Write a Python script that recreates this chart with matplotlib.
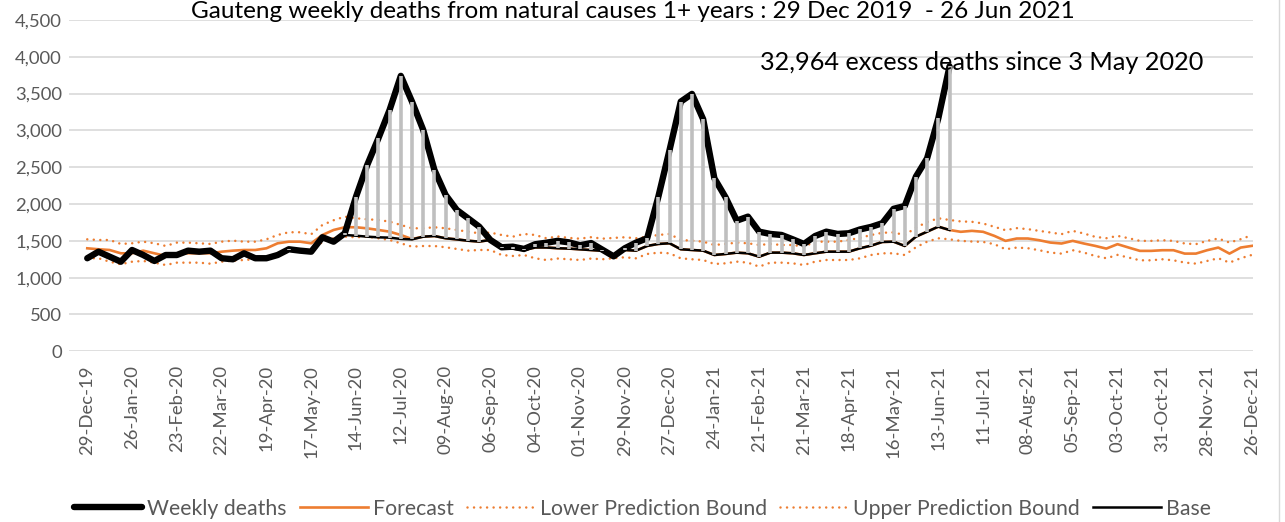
import matplotlib
matplotlib.use("Agg")
import matplotlib.pyplot as plt
import numpy as np
from matplotlib.lines import Line2D
from matplotlib.ticker import FuncFormatter

plt.rcParams['font.family'] = ['Lato', 'DejaVu Sans']

# weekly deaths, week 0 = 29-Dec-19 ... week 77 = 20-Jun-21
weekly_deaths = [
    1264, 1353, 1285, 1217, 1376, 1308, 1227, 1308, 1308, 1367,
    1353, 1367, 1264, 1250, 1331, 1264, 1264, 1308, 1386, 1367,
    1353, 1549, 1489, 1603, 2100, 2531, 2894, 3279, 3741, 3391,
    3007, 2463, 2124, 1920, 1807, 1693, 1512, 1413, 1421, 1390,
    1454, 1475, 1500, 1480, 1440, 1470, 1380, 1290, 1399, 1476,
    1535, 2101, 2735, 3391, 3496, 3152, 2350, 2092, 1775, 1829,
    1625, 1594, 1580, 1521, 1458, 1566, 1625, 1594, 1603, 1655,
    1690, 1740, 1935, 1974, 2373, 2622, 3166, 3870,
]

# base line, starts 3 May 2020 (week 18)
base_start = 18
base = [
    1375, 1360, 1345, 1549, 1489, 1580, 1570, 1557, 1548, 1544,
    1526, 1520, 1557, 1566, 1535, 1520, 1502, 1490, 1512, 1400,
    1395, 1375, 1410, 1410, 1400, 1395, 1385, 1375, 1365, 1290,
    1376, 1367, 1431, 1458, 1467, 1386, 1376, 1367, 1308, 1322,
    1340, 1331, 1285, 1340, 1340, 1331, 1308, 1331, 1353, 1353,
    1353, 1399, 1435, 1485, 1489, 1431, 1557, 1625, 1693, 1648,
]

forecast = [
    1399, 1386, 1376, 1331, 1331, 1367, 1331, 1295, 1331, 1331,
    1331, 1331, 1353, 1367, 1376, 1376, 1399, 1467, 1489, 1489,
    1467, 1580, 1648, 1685, 1685, 1670, 1648, 1625, 1580, 1525,
    1557, 1566, 1535, 1520, 1502, 1490, 1512, 1400, 1395, 1375,
    1410, 1410, 1400, 1395, 1385, 1375, 1365, 1290, 1376, 1367,
    1431, 1458, 1467, 1386, 1376, 1367, 1308, 1322, 1340, 1331,
    1285, 1340, 1340, 1331, 1308, 1331, 1353, 1353, 1353, 1399,
    1435, 1485, 1489, 1431, 1557, 1625, 1693, 1648, 1623, 1636,
    1623, 1568, 1500, 1532, 1532, 1509, 1477, 1464, 1500, 1464,
    1432, 1395, 1455, 1409, 1364, 1364, 1373, 1373, 1327, 1327,
    1373, 1409, 1327, 1409, 1432,
]

upper_bound = [
    1521, 1512, 1512, 1458, 1467, 1489, 1467, 1431, 1476, 1476,
    1467, 1458, 1489, 1503, 1489, 1489, 1521, 1580, 1617, 1617,
    1590, 1716, 1780, 1829, 1807, 1793, 1784, 1761, 1716, 1671,
    1671, 1685, 1671, 1648, 1625, 1603, 1612, 1580, 1557, 1594,
    1580, 1535, 1560, 1540, 1530, 1550, 1530, 1540, 1549, 1535,
    1557, 1580, 1594, 1512, 1503, 1489, 1444, 1458, 1476, 1467,
    1444, 1458, 1444, 1444, 1421, 1489, 1489, 1489, 1512, 1540,
    1580, 1610, 1615, 1578, 1680, 1755, 1807, 1784, 1764, 1759,
    1736, 1691, 1645, 1673, 1659, 1636, 1614, 1591, 1636, 1600,
    1555, 1536, 1568, 1536, 1500, 1500, 1509, 1500, 1464, 1455,
    1500, 1532, 1477, 1523, 1577,
]

lower_bound = [
    1264, 1264, 1217, 1182, 1217, 1227, 1204, 1172, 1204, 1204,
    1204, 1190, 1217, 1231, 1240, 1250, 1276, 1331, 1376, 1376,
    1340, 1489, 1535, 1557, 1549, 1557, 1535, 1512, 1467, 1421,
    1430, 1430, 1413, 1390, 1367, 1376, 1376, 1308, 1295, 1308,
    1263, 1240, 1260, 1250, 1240, 1260, 1250, 1265, 1277, 1263,
    1322, 1340, 1331, 1263, 1250, 1240, 1186, 1195, 1218, 1204,
    1150, 1204, 1204, 1195, 1172, 1218, 1240, 1240, 1240, 1263,
    1308, 1331, 1331, 1308, 1413, 1489, 1535, 1521, 1500, 1491,
    1486, 1455, 1386, 1409, 1400, 1373, 1341, 1327, 1373, 1341,
    1295, 1264, 1309, 1273, 1236, 1236, 1250, 1236, 1205, 1191,
    1227, 1264, 1205, 1264, 1309,
]

tick_labels = [
    "29-Dec-19", "26-Jan-20", "23-Feb-20", "22-Mar-20", "19-Apr-20",
    "17-May-20", "14-Jun-20", "12-Jul-20", "09-Aug-20", "06-Sep-20",
    "04-Oct-20", "01-Nov-20", "29-Nov-20", "27-Dec-20", "24-Jan-21",
    "21-Feb-21", "21-Mar-21", "18-Apr-21", "16-May-21", "13-Jun-21",
    "11-Jul-21", "08-Aug-21", "05-Sep-21", "03-Oct-21", "31-Oct-21",
    "28-Nov-21", "26-Dec-21",
]

ORANGE = "#ED7D31"
GREY_TXT = "#595959"

weeks = np.arange(len(forecast))
w_weeks = np.arange(len(weekly_deaths))
b_weeks = np.arange(base_start, base_start + len(base))

fig = plt.figure(figsize=(12.85, 5.22), dpi=100)
W, H = 1285, 522
ax = fig.add_axes([69 / W, 1 - 351.3 / H, (1253 - 69) / W, (351.3 - 20) / H])

dot = (0, (0.01, 2.6))
l_low, = ax.plot(weeks, lower_bound, color=ORANGE, lw=1.8, ls=dot,
                 dash_capstyle='round', zorder=2)
l_up, = ax.plot(weeks, upper_bound, color=ORANGE, lw=1.8, ls=dot,
                dash_capstyle='round', zorder=2)
l_fc, = ax.plot(weeks, forecast, color=ORANGE, lw=1.9, zorder=3)
l_wd, = ax.plot(w_weeks, weekly_deaths, color="black", lw=4.6,
                solid_joinstyle='round', solid_capstyle='round', zorder=4)
l_base, = ax.plot(b_weeks, base, color="black", lw=1.8, zorder=5)

# excess bars from base up to weekly deaths
wd_from_base = np.array(weekly_deaths[base_start:])
top = np.maximum(wd_from_base, base)
ax.vlines(b_weeks, base, top, color="#BFBFBF", lw=2.6, zorder=6)

ax.set_ylim(0, 4500)
ax.set_yticks(np.arange(0, 4501, 500))
ax.yaxis.set_major_formatter(FuncFormatter(lambda v, p: f"{int(v):,}"))
ax.set_xlim(-1.63, 104.1)
ax.set_xticks(np.arange(0, 105, 4))
ax.set_xticklabels(tick_labels, rotation=90)
ax.grid(axis='y', color="#D9D9D9", lw=1.2, zorder=0)
ax.set_axisbelow(True)
for s in ax.spines.values():
    s.set_visible(False)
ax.tick_params(axis='both', length=0, labelsize=13.3, colors=GREY_TXT)
ax.tick_params(axis='y', pad=5)
ax.tick_params(axis='x', pad=10)

fig.text(633 / W, 1 - 18 / H,
         "Gauteng weekly deaths from natural causes 1+ years : 29 Dec 2019  - 26 Jun 2021",
         ha='center', va='baseline', fontsize=17.5, color="black")
fig.text(760 / W, 1 - 70 / H, "32,964 excess deaths since 3 May 2020",
         ha='left', va='baseline', fontsize=18.2, color="black", zorder=10)

leg = fig.legend([l_wd, l_fc, l_low, l_up, l_base],
                 ["Weekly deaths", "Forecast", "Lower Prediction Bound",
                  "Upper Prediction Bound", "Base"],
                 loc='lower center', bbox_to_anchor=(0.5, -0.03), ncol=5,
                 frameon=False, fontsize=15.3, handlelength=3.2,
                 columnspacing=0.6, handletextpad=0.25)
for t in leg.get_texts():
    t.set_color(GREY_TXT)

fig.add_artist(Line2D([1279 / W, 1279 / W], [0, 1], color="#D9D9D9", lw=1,
                      transform=fig.transFigure))

fig.savefig("out.png", dpi=100)
